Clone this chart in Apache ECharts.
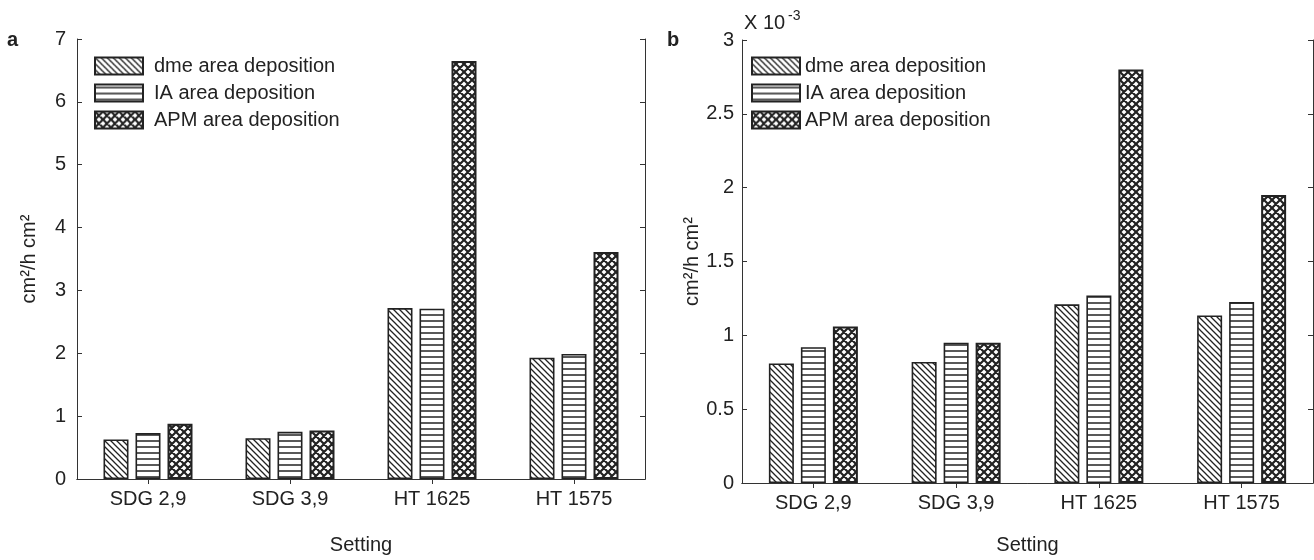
<!DOCTYPE html>
<html>
<head>
<meta charset="utf-8">
<script src="https://cdn.jsdelivr.net/npm/echarts@6/dist/echarts.min.js"></script>
<style>html,body{margin:0;padding:0;background:#fff;}#c{width:1314px;height:560px;}</style>
</head>
<body>
<div id="c"></div>
<script>
// ---- data ----
var categories = ['SDG 2,9', 'SDG 3,9', 'HT 1625', 'HT 1575'];
var seriesNames = ['dme area deposition', 'IA area deposition', 'APM area deposition'];
// panel a (cm2/h cm2)
var aDme = [0.63, 0.65, 2.72, 1.93];
var aIA  = [0.73, 0.75, 2.71, 1.99];
var aAPM = [0.88, 0.77, 6.65, 3.61];
// panel b (x 10^-3 cm2/h cm2)
var bDme = [0.81, 0.82, 1.21, 1.135];
var bIA  = [0.92, 0.95, 1.27, 1.225];
var bAPM = [1.06, 0.95, 2.80, 1.95];
var aTicks = {min: 0, max: 7, interval: 1};
var bTicks = {min: 0, max: 3, interval: 0.5};

// ---- patterns ----
function mk(w, h, draw) {
  var c = document.createElement('canvas'); c.width = w; c.height = h;
  var g = c.getContext('2d'); g.fillStyle = '#fff'; g.fillRect(0, 0, w, h);
  g.strokeStyle = '#222'; draw(g, w, h);
  return {image: c, repeat: 'repeat'};
}
var patDiag = mk(6, 6, function (g, w, h) {
  g.lineWidth = 1.3;
  g.beginPath();
  g.moveTo(-1, -1); g.lineTo(w + 1, h + 1);
  g.moveTo(-1, h - 1); g.lineTo(1, h + 1);
  g.moveTo(w - 1, -1); g.lineTo(w + 1, 1);
  g.stroke();
});
var patHoriz = mk(6, 6, function (g, w, h) {
  g.lineWidth = 1.5;
  g.beginPath(); g.moveTo(0, 3); g.lineTo(w, 3); g.stroke();
});
var patCross = mk(8, 8, function (g, w, h) {
  g.lineWidth = 2.2;
  g.beginPath();
  g.moveTo(-1, -1); g.lineTo(w + 1, h + 1);
  g.moveTo(w + 1, -1); g.lineTo(-1, h + 1);
  g.moveTo(-2, h - 2); g.lineTo(2, h + 2);
  g.moveTo(w - 2, -2); g.lineTo(w + 2, 2);
  g.moveTo(w - 2, h + 2); g.lineTo(w + 2, h - 2);
  g.moveTo(-2, 2); g.lineTo(2, -2);
  g.stroke();
});
var pats = [patDiag, patHoriz, patCross];

var FONT = 'Liberation Sans, Arial, Helvetica, sans-serif';
var txt = '#222';
var axisLine = {show: true, lineStyle: {color: '#333', width: 1}};

function xAxes(gi, gap) {
  return [
    {gridIndex: gi, type: 'category', data: categories, position: 'bottom',
     axisLine: axisLine, axisTick: {show: true, inside: true, alignWithLabel: true, length: 5, lineStyle: {color: '#333'}},
     axisLabel: {color: txt, fontSize: 20, fontFamily: FONT, margin: 10},
     name: 'Setting', nameLocation: 'middle', nameGap: gap,
     nameTextStyle: {color: txt, fontSize: 20, fontFamily: FONT}},
    {gridIndex: gi, type: 'category', data: categories, position: 'top',
     axisLine: axisLine, axisTick: {show: true, inside: true, alignWithLabel: true, length: 5, lineStyle: {color: '#333'}},
     axisLabel: {show: false}}
  ];
}
function yAxes(gi, t, gap, margin) {
  return [
    {gridIndex: gi, type: 'value', min: t.min, max: t.max, interval: t.interval, position: 'left',
     axisLine: axisLine, splitLine: {show: false},
     axisTick: {show: true, inside: true, length: 5, lineStyle: {color: '#333'}},
     axisLabel: {color: txt, fontSize: 20, fontFamily: FONT, margin: margin},
     name: 'cm²/h cm²', nameLocation: 'middle', nameGap: gap, nameRotate: 90,
     nameTextStyle: {color: txt, fontSize: 20, fontFamily: FONT}},
    {gridIndex: gi, type: 'value', min: t.min, max: t.max, interval: t.interval, position: 'right',
     axisLine: axisLine, splitLine: {show: false},
     axisTick: {show: true, inside: true, length: 5, lineStyle: {color: '#333'}},
     axisLabel: {show: false}}
  ];
}
function bars(xi, yi, arrs) {
  return arrs.map(function (d, i) {
    return {type: 'bar', name: seriesNames[i], xAxisIndex: xi, yAxisIndex: yi, data: d,
      barWidth: 25, barGap: '28%',
      itemStyle: {color: pats[i], borderColor: '#222', borderWidth: i === 2 ? 2 : 1.6},
      emphasis: {disabled: true}, animation: false};
  });
}
function legend(gi, left, textPad) {
  return {
    data: seriesNames.map(function (n) { return {name: n}; }),
    orient: 'vertical', left: left, top: 56, padding: 0, itemWidth: 48, itemHeight: 17, itemGap: 7,
    icon: 'rect', selectedMode: false,
    textStyle: {color: txt, fontSize: 20, fontFamily: FONT, padding: [0, 0, 0, textPad]}
  };
}

var chart = echarts.init(document.getElementById('c'));
var series = [].concat(bars(0, 0, [aDme, aIA, aAPM]), bars(2, 2, [bDme, bIA, bAPM]));
chart.setOption({
  animation: false,
  backgroundColor: '#fff',
  grid: [
    {left: 77, right: 669, top: 39, bottom: 74},
    {left: 742, right: 1, top: 40, bottom: 70}
  ],
  xAxis: [].concat(xAxes(0, 56), xAxes(1, 52)),
  yAxis: [].concat(yAxes(0, aTicks, 38, 11), yAxes(1, bTicks, 30, 8)),
  legend: [legend(0, 94, 6), legend(1, 751, 0)],
  series: series,
  graphic: [
    {type: 'text', left: 7, top: 30, style: {text: 'a', fill: txt, font: 'bold 20px ' + FONT}},
    {type: 'text', left: 667, top: 30, style: {text: 'b', fill: txt, font: 'bold 20px ' + FONT}},
    {type: 'text', left: 744, top: 13, style: {text: 'X 10', fill: txt, font: '20px ' + FONT}},
    {type: 'text', left: 788, top: 9, style: {text: '-3', fill: txt, font: '14px ' + FONT}}
  ]
});
</script>
</body>
</html>
